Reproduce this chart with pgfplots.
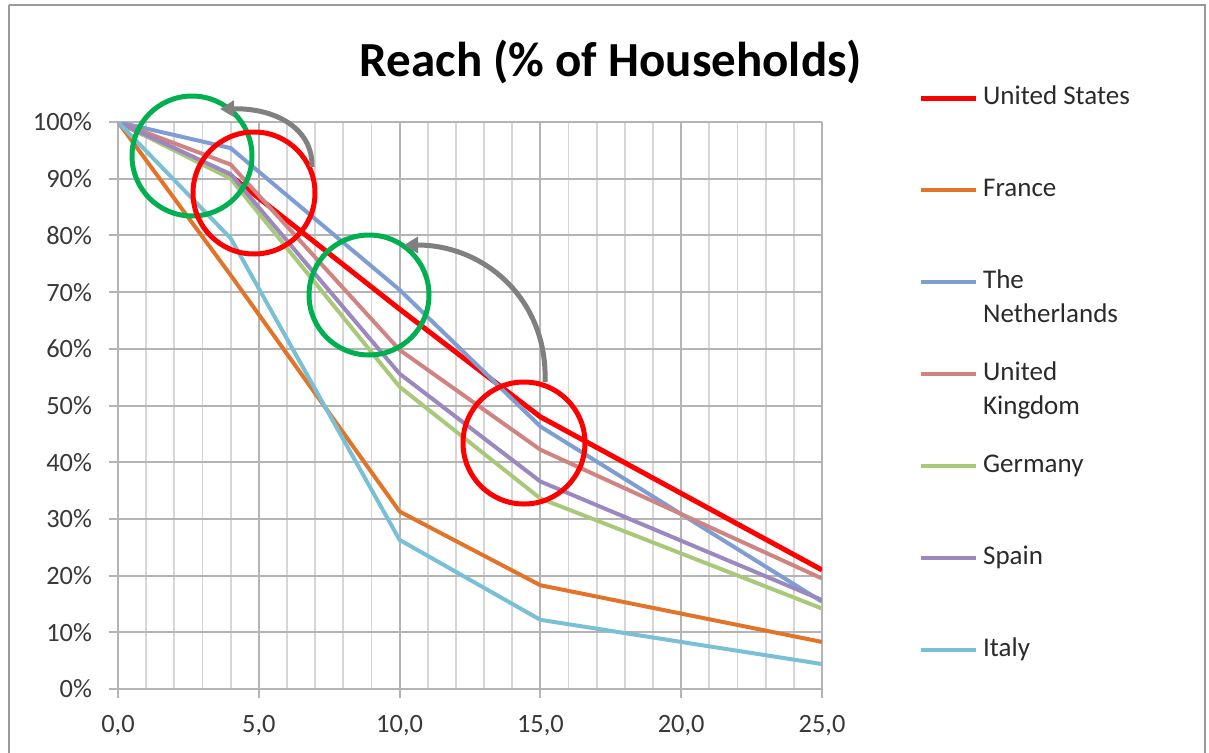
\documentclass[border=0pt]{standalone}
\usepackage{pgfplots}
\pgfplotsset{compat=1.18}
\usepackage{pgfplotstable}
\usepackage{fontspec}
\setmainfont{Carlito}
\usetikzlibrary{arrows.meta}

\definecolor{cUS}{HTML}{FF0000}
\definecolor{cFR}{HTML}{E2742A}
\definecolor{cNL}{HTML}{7E9ED3}
\definecolor{cUK}{HTML}{D08482}
\definecolor{cDE}{HTML}{A8C97A}
\definecolor{cES}{HTML}{9A88BF}
\definecolor{cIT}{HTML}{79BFD6}
\definecolor{gridmaj}{HTML}{B4B4B4}
\definecolor{gridmin}{HTML}{D6D6D6}
\definecolor{tickc}{HTML}{383838}
\definecolor{legc}{HTML}{2A2A2A}
\definecolor{annG}{HTML}{00B050}
\definecolor{annR}{HTML}{FF0000}
\definecolor{annA}{HTML}{808080}

\pgfplotstableread{
x   us    fr    nl    uk    de    es    it
0   100   100   100   100   100   100   100
4   90.5  73    95.4  92.5  90    90.8  79.5
10  67    31.3  70.4  59.8  53.3  55.6  26.3
15  48    18.3  46.3  42.2  33.6  36.6  12.2
25  21    8.3   15.4  19.5  14.2  15.7  4.4
}\reachdata

\begin{document}
\begin{tikzpicture}
\useasboundingbox (-59pt,-31.5pt) rectangle (545.5pt,344.5pt);
\begin{axis}[
  at={(0,0)}, anchor=south west,
  scale only axis, width=352pt, height=283.5pt,
  xmin=0, xmax=25, ymin=0, ymax=100,
  axis x line*=bottom, axis y line*=left,
  axis line style={draw=gridmaj, line width=1pt, -},
  xtick={0,5,...,25},
  xticklabels={{0,0},{5,0},{10,0},{15,0},{20,0},{25,0}},
  minor x tick num=4,
  ytick={0,10,...,100},
  yticklabel={\pgfmathprintnumber{\tick}\%},
  grid=both,
  major grid style={draw=gridmaj, line width=1pt},
  minor grid style={draw=gridmin, line width=0.9pt},
  tick style={draw=gridmaj, line width=1pt},
  major tick length=4.5pt, minor tick length=0pt,
  tick align=outside,
  ticklabel style={font=\fontsize{13.2}{15}\selectfont, text=tickc},
  xticklabel style={yshift=-5pt},
  yticklabel style={xshift=-5pt},
  /pgf/number format/assume math mode=true,
  title={Reach (\% of Households)},
  title style={at={(axis description cs:0.7003,1.085)}, anchor=center,
    font=\bfseries\fontsize{24.5}{29}\selectfont},
  legend cell align=left,
  legend image code/.code={\draw[#1] (0pt,0pt) -- (27.5pt,0pt);},
  legend style={draw=none, fill=none, at={(axis description cs:1.136,1.0635)},
    anchor=north west, inner sep=0pt, row sep=34pt, column sep=2.5pt,
    nodes={inner sep=0pt, text height=9pt, text depth=3pt,
      font=\fontsize{13.5}{16}\selectfont, text=legc}},
]
\addplot[cUS, line width=2.5pt] table[x=x, y=us] {\reachdata};
\addlegendentry{United States}
\addplot[cFR, line width=2pt] table[x=x, y=fr] {\reachdata};
\addlegendentry{France}
\addplot[cNL, line width=2pt] table[x=x, y=nl] {\reachdata};
\addlegendentry{\rlap{\raisebox{-17pt}[0pt][0pt]{Netherlands}}The}
\addplot[cUK, line width=2pt] table[x=x, y=uk] {\reachdata};
\addlegendentry{\rlap{\raisebox{-17pt}[0pt][0pt]{Kingdom}}United}
\addplot[cDE, line width=2pt] table[x=x, y=de] {\reachdata};
\addlegendentry{Germany}
\addplot[cES, line width=2pt] table[x=x, y=es] {\reachdata};
\addlegendentry{Spain}
\addplot[cIT, line width=2pt] table[x=x, y=it] {\reachdata};
\addlegendentry{Italy}
\end{axis}
\begin{scope}[shift={(-59pt,344.5pt)}, x=0.5pt, y=-0.5pt]
  \draw[annA!80, line width=1pt] (9,5) -- (1205,5) -- (1205,900);
  \draw[annA!80, line width=1pt] (9,5) -- (9,900);
  \draw[annG, line width=2.5pt] (192,156) circle[radius=30pt];
  \draw[annR, line width=2.5pt] (254,193) circle[radius=30.5pt];
  \draw[annG, line width=2.5pt] (369,295) circle[radius=30pt];
  \draw[annR, line width=2.5pt] (524,443) circle[radius=30.5pt];
  \draw[annA, line width=2.5pt, -{Triangle[length=7pt,width=8pt]}]
    (312,167) .. controls (313,128) and (275,108) .. (220,109);
  \draw[annA, line width=2.5pt, -{Triangle[length=7pt,width=8pt]}]
    (545,382) .. controls (548,300) and (485,245) .. (404,245);
\end{scope}
\end{tikzpicture}
\end{document}
